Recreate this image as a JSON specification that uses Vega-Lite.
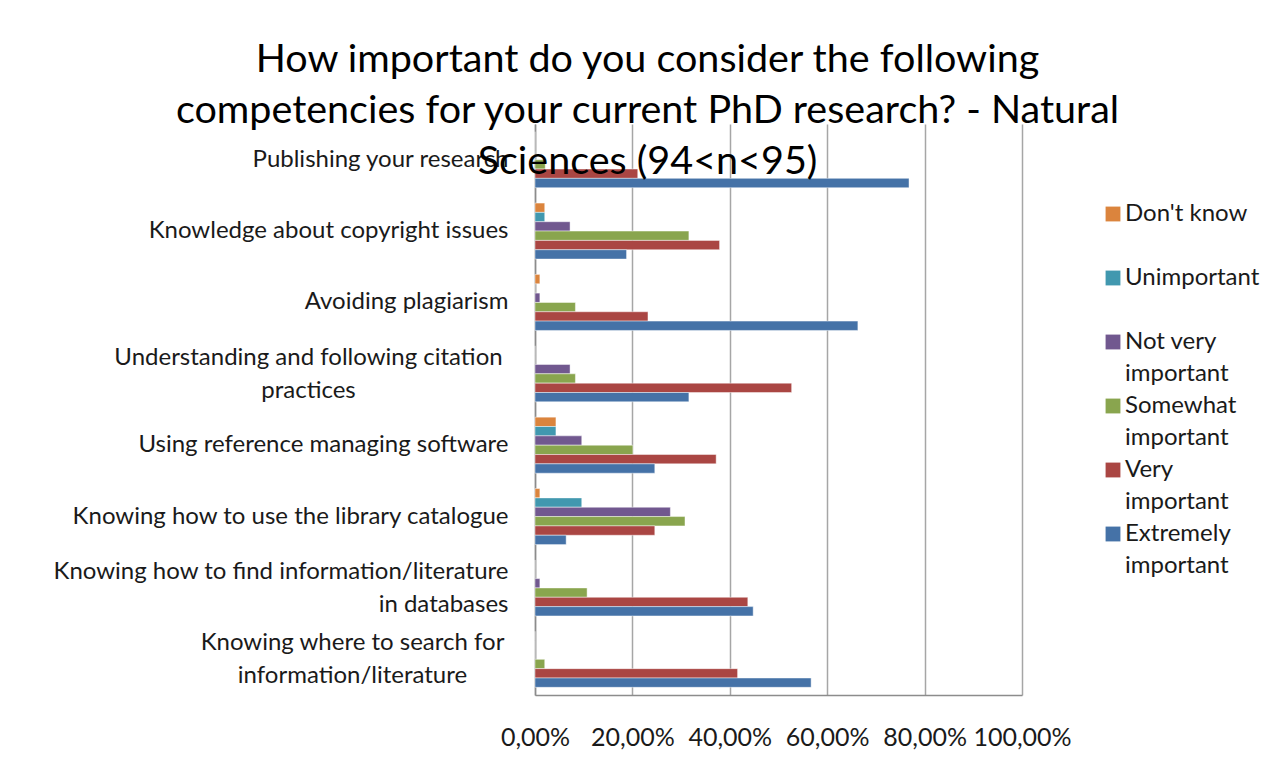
{
  "$schema": "https://vega.github.io/schema/vega-lite/v6.json",
  "autosize": "none",
  "width": 487,
  "height": 571,
  "padding": {"left": 535, "top": 124, "right": 266, "bottom": 71},
  "background": "white",
  "title": {
    "text": ["How important do you consider the following", "competencies for your current PhD research? - Natural", "Sciences (94<n<95)"],
    "anchor": "middle",
    "frame": "group",
    "dx": -131,
    "offset": -58,
    "font": "Lato",
    "fontSize": 39.5,
    "fontWeight": "normal",
    "lineHeight": 51,
    "color": "#000000"
  },
  "data": {
    "values": [
      {"competency": "Publishing your research", "response": "Don't know", "value": 0},
      {"competency": "Publishing your research", "response": "Unimportant", "value": 0},
      {"competency": "Publishing your research", "response": "Not very important", "value": 0},
      {"competency": "Publishing your research", "response": "Somewhat important", "value": 0.021},
      {"competency": "Publishing your research", "response": "Very important", "value": 0.211},
      {"competency": "Publishing your research", "response": "Extremely important", "value": 0.768},
      {"competency": "Knowledge about copyright issues", "response": "Don't know", "value": 0.02},
      {"competency": "Knowledge about copyright issues", "response": "Unimportant", "value": 0.02},
      {"competency": "Knowledge about copyright issues", "response": "Not very important", "value": 0.072},
      {"competency": "Knowledge about copyright issues", "response": "Somewhat important", "value": 0.316},
      {"competency": "Knowledge about copyright issues", "response": "Very important", "value": 0.379},
      {"competency": "Knowledge about copyright issues", "response": "Extremely important", "value": 0.188},
      {"competency": "Avoiding plagiarism", "response": "Don't know", "value": 0.01},
      {"competency": "Avoiding plagiarism", "response": "Unimportant", "value": 0},
      {"competency": "Avoiding plagiarism", "response": "Not very important", "value": 0.01},
      {"competency": "Avoiding plagiarism", "response": "Somewhat important", "value": 0.083},
      {"competency": "Avoiding plagiarism", "response": "Very important", "value": 0.232},
      {"competency": "Avoiding plagiarism", "response": "Extremely important", "value": 0.663},
      {"competency": "Understanding and following citation practices", "response": "Don't know", "value": 0},
      {"competency": "Understanding and following citation practices", "response": "Unimportant", "value": 0},
      {"competency": "Understanding and following citation practices", "response": "Not very important", "value": 0.072},
      {"competency": "Understanding and following citation practices", "response": "Somewhat important", "value": 0.083},
      {"competency": "Understanding and following citation practices", "response": "Very important", "value": 0.527},
      {"competency": "Understanding and following citation practices", "response": "Extremely important", "value": 0.316},
      {"competency": "Using reference  managing software", "response": "Don't know", "value": 0.043},
      {"competency": "Using reference  managing software", "response": "Unimportant", "value": 0.043},
      {"competency": "Using reference  managing software", "response": "Not very important", "value": 0.096},
      {"competency": "Using reference  managing software", "response": "Somewhat important", "value": 0.201},
      {"competency": "Using reference  managing software", "response": "Very important", "value": 0.372},
      {"competency": "Using reference  managing software", "response": "Extremely important", "value": 0.246},
      {"competency": "Knowing how to use the library catalogue", "response": "Don't know", "value": 0.01},
      {"competency": "Knowing how to use the library catalogue", "response": "Unimportant", "value": 0.096},
      {"competency": "Knowing how to use the library catalogue", "response": "Not very important", "value": 0.278},
      {"competency": "Knowing how to use the library catalogue", "response": "Somewhat important", "value": 0.308},
      {"competency": "Knowing how to use the library catalogue", "response": "Very important", "value": 0.246},
      {"competency": "Knowing how to use the library catalogue", "response": "Extremely important", "value": 0.064},
      {"competency": "Knowing how to find information/literature in databases", "response": "Don't know", "value": 0},
      {"competency": "Knowing how to find information/literature in databases", "response": "Unimportant", "value": 0},
      {"competency": "Knowing how to find information/literature in databases", "response": "Not very important", "value": 0.01},
      {"competency": "Knowing how to find information/literature in databases", "response": "Somewhat important", "value": 0.107},
      {"competency": "Knowing how to find information/literature in databases", "response": "Very important", "value": 0.437},
      {"competency": "Knowing how to find information/literature in databases", "response": "Extremely important", "value": 0.448},
      {"competency": "Knowing where to search for information/literature", "response": "Don't know", "value": 0},
      {"competency": "Knowing where to search for information/literature", "response": "Unimportant", "value": 0},
      {"competency": "Knowing where to search for information/literature", "response": "Not very important", "value": 0},
      {"competency": "Knowing where to search for information/literature", "response": "Somewhat important", "value": 0.02},
      {"competency": "Knowing where to search for information/literature", "response": "Very important", "value": 0.416},
      {"competency": "Knowing where to search for information/literature", "response": "Extremely important", "value": 0.567}
    ]
  },
  "mark": {"type": "bar", "stroke": "white", "strokeOpacity": 0.45, "strokeWidth": 1},
  "encoding": {
    "y": {
      "field": "competency",
      "type": "nominal",
      "sort": null,
      "scale": {"paddingInner": 0.215, "paddingOuter": 0.1075},
      "axis": {
        "title": null,
        "ticks": false,
        "tickSize": 0,
        "domainColor": "#8c8c8c",
        "domainWidth": 1.5,
        "labelFont": "Lato",
        "labelFontSize": 24,
        "labelColor": "#1a1a1a",
        "labelLimit": 600,
        "labelLineHeight": 33,
        "labelAlign": {"condition": {"test": "datum.value == 'Understanding and following citation practices' || datum.value == 'Knowing where to search for information/literature'", "value": "center"}, "value": "right"},
        "labelPadding": {"condition": [
          {"test": "datum.value == 'Understanding and following citation practices'", "value": 227},
          {"test": "datum.value == 'Knowing where to search for information/literature'", "value": 183}
        ], "value": 27},
        "labelOffset": {"condition": {"test": "datum.value == 'Understanding and following citation practices' || datum.value == 'Knowing where to search for information/literature' || datum.value == 'Knowing how to find information/literature in databases'", "value": -16}, "value": 0},
        "labelExpr": "datum.value == 'Understanding and following citation practices' ? ['Understanding and following citation', 'practices'] : datum.value == 'Knowing how to find information/literature in databases' ? ['Knowing how to find information/literature', 'in databases'] : datum.value == 'Knowing where to search for information/literature' ? ['Knowing where to search for', 'information/literature'] : datum.value"
      }
    },
    "yOffset": {
      "field": "response",
      "type": "nominal",
      "sort": ["Don't know", "Unimportant", "Not very important", "Somewhat important", "Very important", "Extremely important"]
    },
    "x": {
      "field": "value",
      "type": "quantitative",
      "scale": {"domain": [0, 1]},
      "axis": {
        "title": null,
        "values": [0, 0.2, 0.4, 0.6, 0.8, 1],
        "ticks": false,
        "tickSize": 0,
        "grid": true,
        "gridColor": "#a6a6a6",
        "gridWidth": 1.5,
        "domainColor": "#8c8c8c",
        "domainWidth": 1.5,
        "labelFont": "Lato",
        "labelFontSize": 25,
        "labelColor": "#1a1a1a",
        "labelPadding": 30,
        "labelFlush": false,
        "labelOverlap": false,
        "labelExpr": "replace(format(datum.value, '.2%'), '.', ',')"
      }
    },
    "color": {
      "field": "response",
      "type": "nominal",
      "scale": {
        "domain": ["Don't know", "Unimportant", "Not very important", "Somewhat important", "Very important", "Extremely important"],
        "range": ["#DB843D", "#4198AF", "#71588F", "#89A54E", "#AA4643", "#4572A7"]
      },
      "legend": {
        "title": null,
        "orient": "none",
        "legendX": 566,
        "legendY": 78,
        "symbolType": "square",
        "symbolSize": 220,
        "symbolStrokeWidth": 0,
        "labelFont": "Lato",
        "labelFontSize": 24,
        "labelColor": "#1a1a1a",
        "labelLimit": 300,
        "labelOffset": 0,
        "rowPadding": 8,
        "labelExpr": "datum.label == 'Not very important' ? ['Not very', 'important'] : datum.label == 'Somewhat important' ? ['Somewhat', 'important'] : datum.label == 'Very important' ? ['Very', 'important'] : datum.label == 'Extremely important' ? ['Extremely', 'important'] : [datum.label, ' ']"
      }
    }
  },
  "config": {
    "view": {"stroke": null},
    "style": {"guide-label": {"lineHeight": 32}}
  }
}
